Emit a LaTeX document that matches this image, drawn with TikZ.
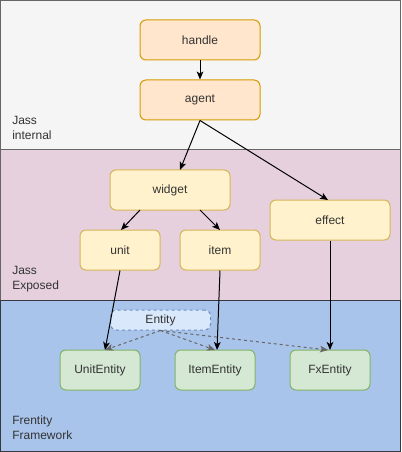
\documentclass[tikz,border=0pt]{standalone}
\usepackage{fontspec}
\setmainfont{Liberation Sans}
\usetikzlibrary{arrows.meta}
\definecolor{bandgray}{HTML}{F5F5F5}
\definecolor{bandpink}{HTML}{E6D0DE}
\definecolor{bandblue}{HTML}{A9C4EB}
\definecolor{bordgray}{HTML}{666666}
\definecolor{borddark}{HTML}{36393D}
\definecolor{orfill}{HTML}{FFE6CC}
\definecolor{ordraw}{HTML}{D79B00}
\definecolor{yefill}{HTML}{FFF2CC}
\definecolor{yedraw}{HTML}{D6B656}
\definecolor{grfill}{HTML}{D5E8D4}
\definecolor{grdraw}{HTML}{82B366}
\definecolor{blfill}{HTML}{DAE8FC}
\definecolor{bldraw}{HTML}{6C8EBF}
\definecolor{txt}{HTML}{333333}
\tikzset{
  box/.style={rectangle, rounded corners=4.5pt, line width=0.75pt, inner sep=0pt,
    font=\fontsize{9pt}{11pt}\selectfont, text=txt},
  orbox/.style={box, fill=orfill, draw=ordraw, minimum width=90pt, minimum height=30pt},
  yebox/.style={box, fill=yefill, draw=yedraw},
  grbox/.style={box, fill=grfill, draw=grdraw, minimum width=60pt, minimum height=30pt},
  entbox/.style={box, fill=blfill, draw=bldraw, dashed, dash pattern=on 2.25pt off 2.25pt, minimum width=75pt, minimum height=15pt},
  band/.style={line width=0.75pt},
  bandlabel/.style={anchor=north west, align=left, inner sep=0pt, font=\fontsize{9pt}{11.25pt}\selectfont, text=txt},
  arr/.style={line width=0.75pt, -{Stealth[length=6pt,width=5pt,inset=1.5pt]}},
  darr/.style={line width=0.75pt, draw=bordgray, dashed, dash pattern=on 2.25pt off 2.25pt, -{Stealth[length=6pt,width=5pt,inset=1.5pt]}, bordgray},
}
\begin{document}
\begin{tikzpicture}[x=0.75pt,y=-0.75pt]
\useasboundingbox (0,0) rectangle (401,452);
% bands
\draw[band, fill=bandgray, draw=bordgray] (0.5,0.5) rectangle (400.5,150);
\draw[band, fill=bandpink, draw=bordgray] (0.5,150) rectangle (400.5,300);
\draw[band, fill=bandblue, draw=borddark] (0.5,300) rectangle (400.5,451.5);
\node[bandlabel] (lab1) at (12,116) {Jass\\internal};
\node[bandlabel] (lab2) at (12,266) {Jass\\Exposed};
\node[bandlabel] (lab3) at (12,416) {Frentity\\Framework};
% nodes
\node[orbox] (handle) at (200,40) {handle};
\node[orbox] (agent) at (200,100) {agent};
\node[yebox, minimum width=90pt, minimum height=30pt] (widget) at (170,190) {widget};
\node[yebox, minimum width=90pt, minimum height=30pt] (effect) at (330,220) {effect};
\node[yebox, minimum width=60pt, minimum height=30pt] (unit) at (120,250) {unit};
\node[yebox, minimum width=60pt, minimum height=30pt] (item) at (220,250) {item};
\node[entbox] (entity) at (160.5,320) {Entity};
\node[grbox] (unitent) at (100,370) {UnitEntity};
\node[grbox] (itement) at (215,370) {ItemEntity};
\node[grbox] (fxent) at (330,370) {FxEntity};
% connectors
\draw[arr] (handle.south) -- (agent.north);
\draw[arr] (agent.south) -- (180,170);
\draw[arr] (agent.south) -- (328,200);
\draw[arr] (140,210) -- (121,230);
\draw[arr] (200,210) -- (220,230);
\draw[arr] (unit.south) -- (105,350);
\draw[arr] (item.south) -- (217,350);
\draw[arr] (effect.south) -- (330,350);
\draw[darr] (entity.south) -- (105,350);
\draw[darr] (entity.south) -- (215,350);
\draw[darr] (entity.south) -- (328,350);
\end{tikzpicture}
\end{document}
